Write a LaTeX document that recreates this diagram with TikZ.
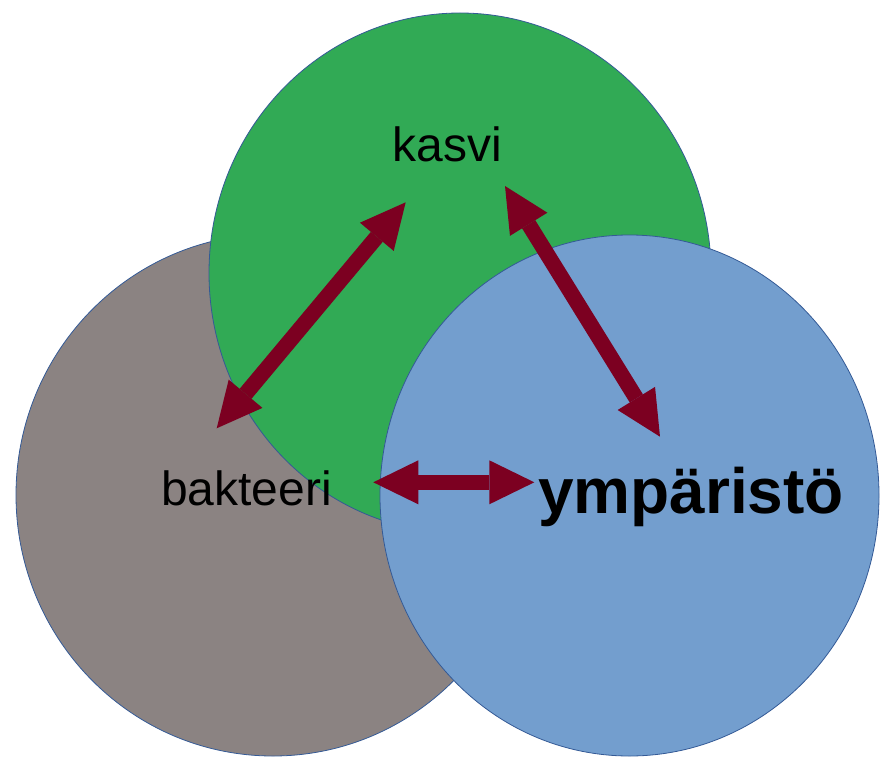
\documentclass[tikz,border=0pt]{standalone}
\usepackage{fontspec}
\setmainfont{Liberation Sans}
\usetikzlibrary{arrows.meta}
\definecolor{greyfill}{RGB}{139,131,130}
\definecolor{greenfill}{RGB}{49,170,85}
\definecolor{bluefill}{RGB}{115,158,206}
\definecolor{rim}{RGB}{52,90,150}
\definecolor{arrowred}{RGB}{124,0,33}
\tikzset{
  blob/.style={draw=rim, line width=0.8pt},
  link/.style={draw=arrowred, line width=15.5pt,
    {Triangle[length=45pt,width=44pt,line width=0pt]}-{Triangle[length=45pt,width=44pt,line width=0pt]}},
  lbl/.style={inner sep=0pt, anchor=base, text=black},
}
\begin{document}
\begin{tikzpicture}[x=1pt,y=-1pt]
\useasboundingbox (0,0) rectangle (880,757);
% circles
\fill[greyfill] (273,495) ellipse [x radius=257pt, y radius=261pt];
\draw[blob] (273,495) ellipse [x radius=257pt, y radius=261pt];
\fill[greenfill] (460,273) ellipse [x radius=251pt, y radius=260pt];
\draw[blob] (460,273) ellipse [x radius=251pt, y radius=260pt];
\fill[bluefill] (629.5,495.5) ellipse [x radius=249.5pt, y radius=260.5pt];
\draw[blob] (629.5,495.5) ellipse [x radius=249.5pt, y radius=260.5pt];
% labels
\node[lbl, font=\fontsize{48}{58}\selectfont] (kasvi) at (447.5,161) {kasvi};
\node[lbl, font=\fontsize{48}{58}\selectfont] (bakteeri) at (246.5,505) {bakteeri};
\node[lbl, font=\fontsize{64}{76}\selectfont\bfseries] (ymparisto) at (691,513) {ympäristö};
% arrow ends
\coordinate (ab) at (216.7,428.3);
\coordinate (ak) at (405.7,202.3);
\coordinate (bk) at (505,186);
\coordinate (by) at (660,436.7);
\coordinate (cb) at (373.3,482.3);
\coordinate (cy) at (534.3,482.3);
\draw[link] (ab) -- (ak);
\draw[link] (bk) -- (by);
\draw[link] (cb) -- (cy);
\end{tikzpicture}
\end{document}
